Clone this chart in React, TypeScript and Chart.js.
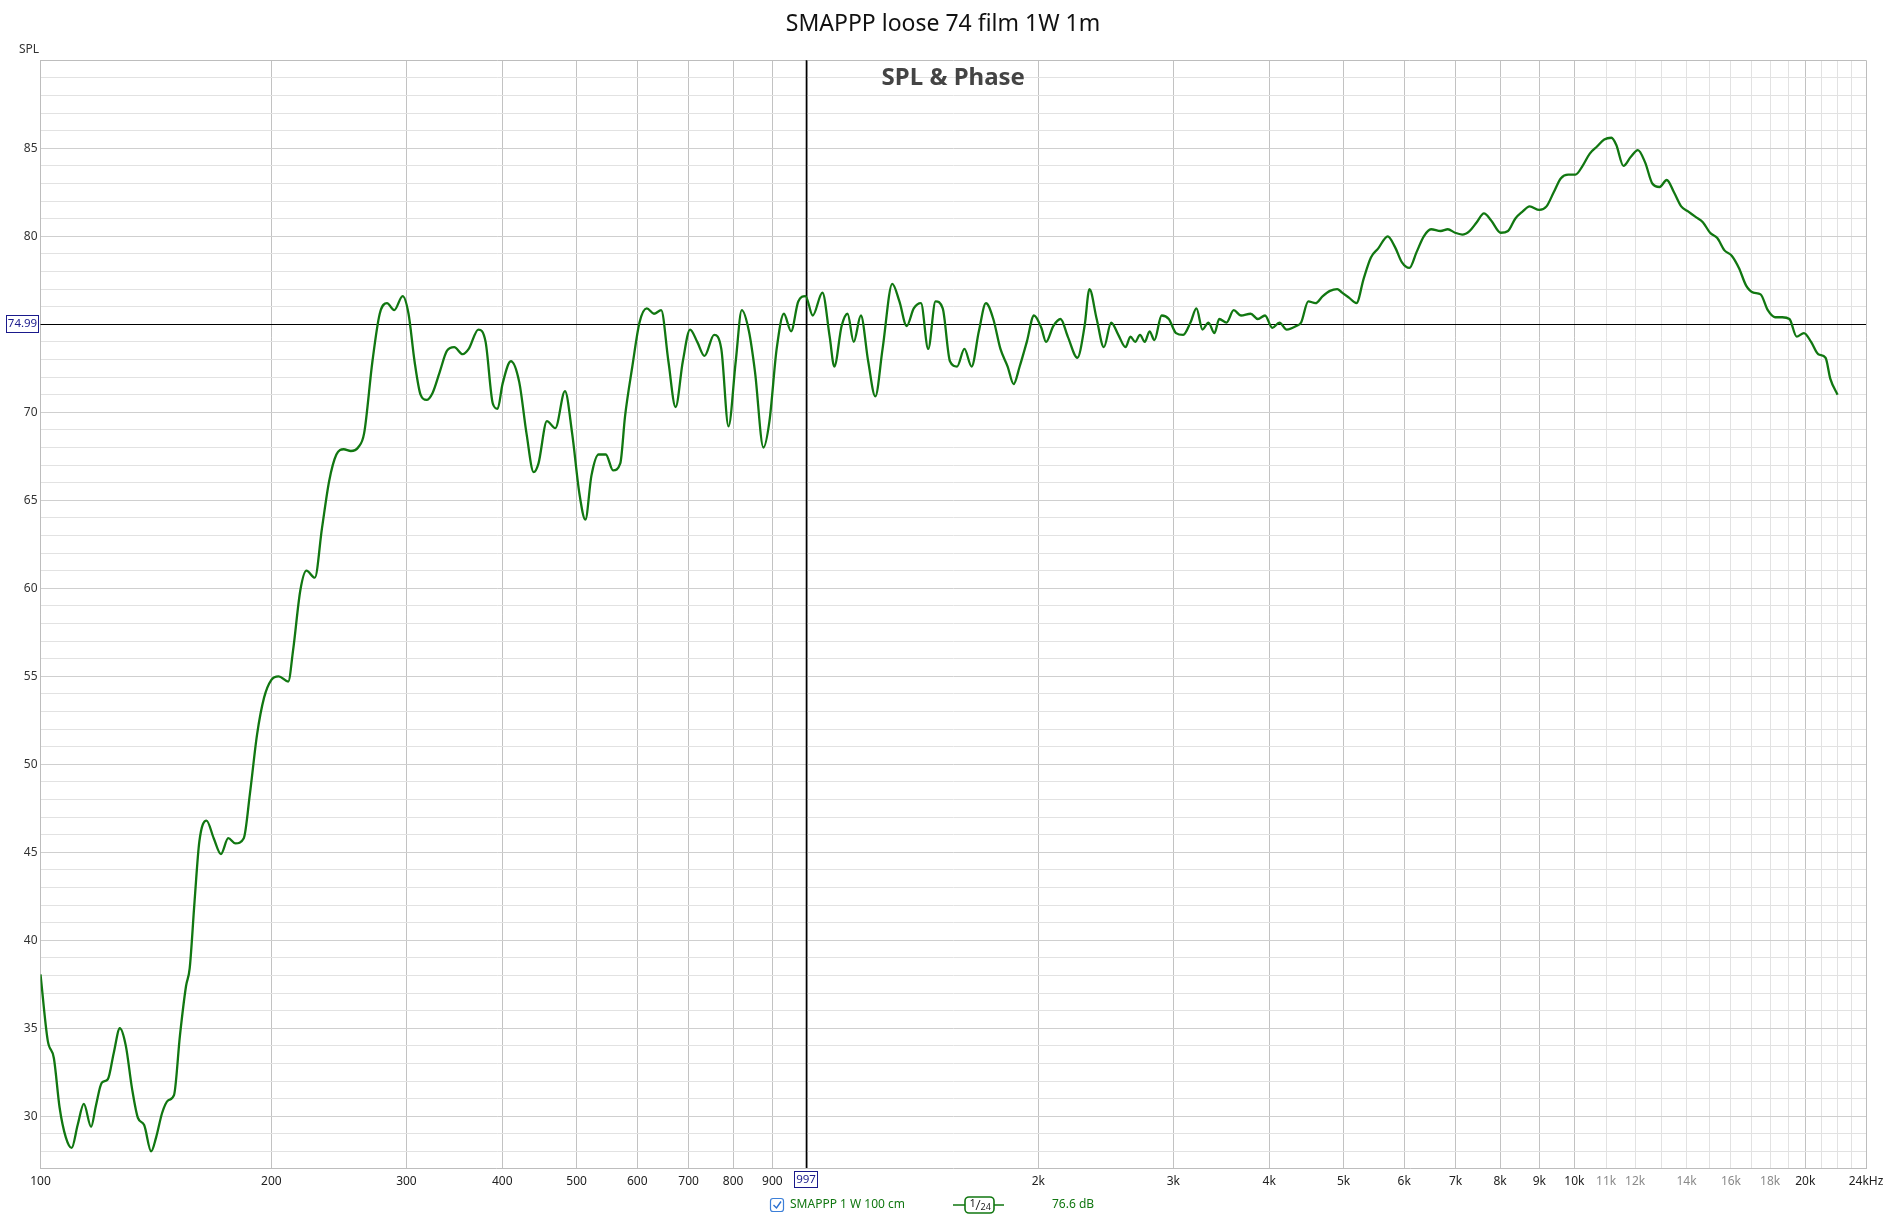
import React, { useEffect, useRef } from 'react';
import { Chart, registerables } from 'chart.js';

Chart.register(...registerables);

const TITLE = 'SMAPPP loose 74 film 1W 1m';
const SUBTITLE = 'SPL & Phase';
const Y_AXIS_NAME = 'SPL';
const LEGEND_NAME = 'SMAPPP 1 W 100 cm';
const LEGEND_LEVEL = '76.6 dB';
const CURSOR_FREQ = 997;
const CURSOR_SPL = 74.99;

const FREQ_HZ = [100,102.2,104.1,105.9,107.9,109.8,111.8,113.9,116.4,118.1,120.2,122.4,124.6,126.9,129.2,131.6,134,136.5,139.4,141.5,144.1,146.7,149.3,152,154.8,156.5,158.8,161.1,164.6,168.2,171.9,175.7,179.5,184.1,187.5,191.6,195.7,200,204.4,210.4,213.5,218.2,222.2,227.9,232.8,237.9,243.1,248.5,253.9,259.5,264.2,270.9,276.9,283,289.2,296.6,301.9,307.4,313,318.7,324.5,331.6,338.9,346.3,355.2,361.7,372.3,380.5,388.8,394.5,400.3,410.5,421,430.2,439.6,446,457.4,469.1,482.9,493.4,504.2,513.4,522.8,534.2,545.9,557.9,570.1,578.4,591.1,604,617.3,630.8,644.6,658.7,673.1,687.9,703,718.3,734.1,755.6,772.1,789,806.3,821,838.9,854.3,876.2,892.2,911.7,931.7,952.1,972.8,994.2,1016,1046,1069,1084,1108,1128,1149,1174,1200,1226,1253,1290,1318,1347,1376,1406,1437,1469,1501,1534,1567,1602,1637,1673,1709,1747,1785,1824,1857,1891,1932,1974,2018,2047,2092,2138,2185,2249,2298,2332,2383,2435,2489,2543,2599,2637,2675,2714,2753,2793,2834,2896,2959,3024,3090,3158,3215,3274,3333,3394,3443,3519,3596,3675,3783,3866,3950,4037,4125,4216,4339,4402,4498,4597,4698,4801,4906,4978,5087,5198,5312,5429,5547,5710,5834,5962,6093,6226,6363,6502,6693,6839,6989,7142,7299,7459,7622,7789,8017,8193,8372,8556,8743,9000,9197,9398,9604,9814,10029,10249,10473,10702,10937,11176,11338,11587,11841,12100,12365,12636,12913,13195,13484,13780,14082,14390,14706,15028,15357,15693,16037,16388,16747,17114,17489,17872,18263,18663,19072,19490,19917,20353,20799,21254,21564,22036];

const SPL_DB = [38.06,34.3,33.3,30.5,28.8,28.2,29.5,30.7,29.4,30.6,31.9,32.1,33.6,35.0,34.0,31.6,29.9,29.5,28.0,28.8,30.2,30.9,31.2,34.6,37.4,38.4,42.2,45.6,46.8,45.8,44.9,45.8,45.5,45.8,48.3,51.7,53.8,54.8,55.0,54.7,56.5,59.9,61.0,60.6,63.4,66.1,67.6,67.9,67.8,68.0,68.8,72.9,75.6,76.2,75.8,76.6,75.6,72.9,71.0,70.7,71.1,72.3,73.5,73.7,73.3,73.6,74.7,74.0,70.5,70.2,71.6,72.9,71.7,68.8,66.6,67.1,69.5,69.1,71.2,68.8,65.4,63.9,66.4,67.6,67.6,66.7,67.1,69.8,72.6,75.1,75.9,75.6,75.8,72.9,70.3,72.9,74.7,74.0,73.2,74.4,73.6,69.2,72.9,75.8,74.6,72.3,68.0,69.5,73.6,75.6,74.6,76.3,76.6,75.5,76.8,74.3,72.6,74.9,75.6,74.0,75.5,72.9,70.9,73.6,77.3,76.3,74.9,75.9,76.2,73.6,76.3,75.9,72.9,72.6,73.6,72.6,74.6,76.2,75.3,73.6,72.6,71.6,72.6,74.0,75.5,74.8,74.0,74.9,75.3,74.3,73.1,74.9,77.0,75.3,73.7,75.1,74.4,73.7,74.3,74.0,74.4,74.0,74.6,74.1,75.5,75.3,74.5,74.4,75.1,75.9,74.7,75.1,74.5,75.3,75.1,75.8,75.5,75.6,75.3,75.5,74.8,75.1,74.7,74.9,75.1,76.3,76.2,76.6,76.9,77.0,76.8,76.5,76.2,77.6,78.8,79.3,80.0,79.4,78.5,78.2,79.1,80.0,80.4,80.3,80.4,80.2,80.1,80.3,80.8,81.3,80.9,80.2,80.3,81.0,81.4,81.7,81.5,81.7,82.5,83.3,83.5,83.5,84.0,84.7,85.1,85.5,85.6,85.2,84.0,84.5,84.9,84.2,83.0,82.8,83.2,82.5,81.7,81.4,81.1,80.8,80.2,79.9,79.2,78.9,78.2,77.2,76.8,76.7,75.8,75.4,75.4,75.3,74.3,74.5,74.0,73.3,73.1,71.9,71.0];

const X_TICK_VALUES = [100,200,300,400,500,600,700,800,900,1000,2000,3000,4000,5000,6000,7000,8000,9000,10000,11000,12000,13000,14000,15000,16000,17000,18000,19000,20000,21000,22000,23000,24000];
const X_TICK_LABELS = ['100','200','300','400','500','600','700','800','900','','2k','3k','4k','5k','6k','7k','8k','9k','10k','11k','12k','','14k','','16k','','18k','','20k','','','','24kHz'];
const X_MINOR_TICKS = [11000,12000,13000,14000,15000,16000,17000,18000,19000,21000,22000,23000];

const Y_MIN = 27.06;
const Y_MAX = 90;
const Y_TICK_VALUES = Array.from({ length: 63 }, (_, i) => 28 + i);

const FONT = "'Noto Sans', 'Open Sans', sans-serif";
const TRACE_COLOR = '#117711';
const CURSOR_LABEL_COLOR = '#1a1a8c';

const overlayPlugin = {
  id: 'rewOverlay',
  beforeDatasetsDraw(chart: any) {
    const { ctx, chartArea, scales } = chart;
    const cx = Math.round(scales.x.getPixelForValue(CURSOR_FREQ)) + 0.5;
    const cy = Math.round(scales.y.getPixelForValue(CURSOR_SPL)) + 0.5;
    ctx.save();
    ctx.strokeStyle = '#000';
    ctx.lineWidth = 1.6;
    ctx.beginPath();
    ctx.moveTo(cx, chartArea.top);
    ctx.lineTo(cx, chartArea.bottom);
    ctx.stroke();
    ctx.lineWidth = 1.2;
    ctx.beginPath();
    ctx.moveTo(chartArea.left, cy);
    ctx.lineTo(chartArea.right, cy);
    ctx.stroke();
    ctx.restore();
  },
  afterDraw(chart: any) {
    const { ctx, chartArea, scales } = chart;
    ctx.save();
    // subtitle
    ctx.fillStyle = '#444';
    ctx.font = `bold 24px ${FONT}`;
    ctx.textAlign = 'center';
    ctx.textBaseline = 'middle';
    ctx.fillText(SUBTITLE, (chartArea.left + chartArea.right) / 2, chartArea.top + 18);
    // axis name
    ctx.fillStyle = '#333';
    ctx.font = `12px ${FONT}`;
    ctx.textAlign = 'left';
    ctx.fillText(Y_AXIS_NAME, 19, 50);

    // y cursor box
    const cy = scales.y.getPixelForValue(CURSOR_SPL);
    ctx.fillStyle = '#fff';
    ctx.strokeStyle = CURSOR_LABEL_COLOR;
    ctx.lineWidth = 1;
    ctx.fillRect(6.5, Math.round(cy) - 8.5, 32, 17);
    ctx.strokeRect(6.5, Math.round(cy) - 8.5, 32, 17);
    ctx.fillStyle = CURSOR_LABEL_COLOR;
    ctx.font = `11.5px ${FONT}`;
    ctx.textAlign = 'center';
    ctx.fillText(CURSOR_SPL.toFixed(2), 22.5, Math.round(cy));

    // x cursor box
    const cx = scales.x.getPixelForValue(CURSOR_FREQ);
    const bx = Math.round(cx) - 11.5;
    const by = chartArea.bottom + 3.5;
    ctx.fillStyle = '#fff';
    ctx.fillRect(bx, by, 23, 16);
    ctx.strokeRect(bx, by, 23, 16);
    ctx.fillStyle = CURSOR_LABEL_COLOR;
    ctx.fillText(String(CURSOR_FREQ), bx + 11.5, by + 8.5);

    // legend
    const ly = 1205;
    ctx.strokeStyle = '#3c7fd8';
    ctx.lineWidth = 1.2;
    ctx.beginPath();
    ctx.roundRect(770.5, ly - 6.5, 13, 13, 2.5);
    ctx.stroke();
    ctx.strokeStyle = '#2a6fd0';
    ctx.lineWidth = 1.4;
    ctx.beginPath();
    ctx.moveTo(773.5, ly);
    ctx.lineTo(776.5, ly + 3);
    ctx.lineTo(781, ly - 3.5);
    ctx.stroke();
    ctx.fillStyle = TRACE_COLOR;
    ctx.font = `12px ${FONT}`;
    ctx.textAlign = 'left';
    ctx.fillText(LEGEND_NAME, 790, ly);
    // smoothing symbol
    ctx.strokeStyle = TRACE_COLOR;
    ctx.lineWidth = 1.6;
    ctx.beginPath();
    ctx.moveTo(953, ly);
    ctx.lineTo(965, ly);
    ctx.moveTo(994, ly);
    ctx.lineTo(1004, ly);
    ctx.stroke();
    ctx.beginPath();
    ctx.roundRect(965, ly - 8, 29, 16, 4);
    ctx.fillStyle = '#fff';
    ctx.fill();
    ctx.stroke();
    ctx.fillStyle = '#222';
    ctx.font = `11px ${FONT}`;
    ctx.textAlign = 'left';
    ctx.fillText('1', 969.5, ly - 1.5);
    ctx.strokeStyle = '#222';
    ctx.lineWidth = 1;
    ctx.beginPath();
    ctx.moveTo(976, ly + 5);
    ctx.lineTo(980, ly - 5);
    ctx.stroke();
    ctx.font = `9px ${FONT}`;
    ctx.fillText('24', 980.5, ly + 2.5);
    ctx.fillStyle = TRACE_COLOR;
    ctx.font = `12px ${FONT}`;
    ctx.fillText(LEGEND_LEVEL, 1052, ly);
    ctx.restore();
  },
};

export default function App() {
  const canvasRef = useRef<HTMLCanvasElement | null>(null);

  useEffect(() => {
    document.body.style.margin = '0';
    const canvas = canvasRef.current;
    if (!canvas) return;
    const points = FREQ_HZ.map((f, i) => ({ x: f, y: SPL_DB[i] })).filter((p) => p.y !== undefined);
    const labelFor = (v: number) => {
      const idx = X_TICK_VALUES.indexOf(v);
      return idx >= 0 ? X_TICK_LABELS[idx] : '';
    };
    const chart = new Chart(canvas, {
      type: 'line',
      data: {
        datasets: [
          {
            data: points,
            borderColor: TRACE_COLOR,
            borderWidth: 2.3,
            pointRadius: 0,
            fill: false,
            cubicInterpolationMode: 'monotone',
          },
        ],
      },
      options: {
        responsive: false,
        animation: false,
        events: [],
        layout: { padding: { top: 0, right: 0, left: 0, bottom: 0 } },
        plugins: {
          legend: { display: false },
          tooltip: { enabled: false },
          title: {
            display: true,
            text: TITLE,
            color: '#111',
            font: { family: FONT, size: 23, weight: 'normal' },
            padding: { top: 10.5, bottom: 22.2 },
          },
        },
        scales: {
          x: {
            type: 'logarithmic',
            min: 100,
            max: 24000,
            afterBuildTicks: (axis: any) => {
              axis.ticks = X_TICK_VALUES.map((v) => ({ value: v }));
            },
            afterFit: (axis: any) => {
              axis.height = 48;
              axis.paddingRight = 20;
              axis.paddingLeft = 0;
            },
            ticks: {
              autoSkip: false,
              maxRotation: 0,
              minRotation: 0,
              padding: 6,
              font: { family: FONT, size: 12 },
              color: (c: any) => (X_MINOR_TICKS.includes(c.tick?.value) ? '#8a8a8a' : '#222'),
              callback: (v: any) => labelFor(Number(v)),
            },
            grid: {
              drawTicks: false,
              tickLength: 0,
              lineWidth: 1,
              color: (c: any) => {
                const v = c.tick?.value;
                if (v === 24000) return '#bdbdbd';
                return X_MINOR_TICKS.includes(v) ? '#e2e2e2' : '#c2c2c2';
              },
            },
            border: { display: true, color: '#bdbdbd' },
          },
          y: {
            type: 'linear',
            min: Y_MIN,
            max: Y_MAX,
            afterBuildTicks: (axis: any) => {
              axis.ticks = Y_TICK_VALUES.map((v) => ({ value: v }));
            },
            afterFit: (axis: any) => {
              axis.width = 40.5;
              axis.paddingTop = 0;
              axis.paddingBottom = 0;
            },
            ticks: {
              autoSkip: false,
              padding: 3,
              font: { family: FONT, size: 12 },
              color: '#333',
              callback: (v: any) => {
                const n = Number(v);
                return n % 5 === 0 && n < 90 ? String(n) : '';
              },
            },
            grid: {
              drawTicks: false,
              tickLength: 0,
              lineWidth: 1,
              color: (c: any) => {
                const v = c.tick?.value;
                if (v === 90) return '#bdbdbd';
                return v % 5 === 0 ? '#cfcfcf' : '#e2e2e2';
              },
            },
            border: { display: true, color: '#bdbdbd' },
          },
        },
      },
      plugins: [overlayPlugin],
    } as any);
    return () => {
      chart.destroy();
    };
  }, []);

  return <canvas ref={canvasRef} width={1886} height={1216} style={{ display: 'block' }} />;
}
